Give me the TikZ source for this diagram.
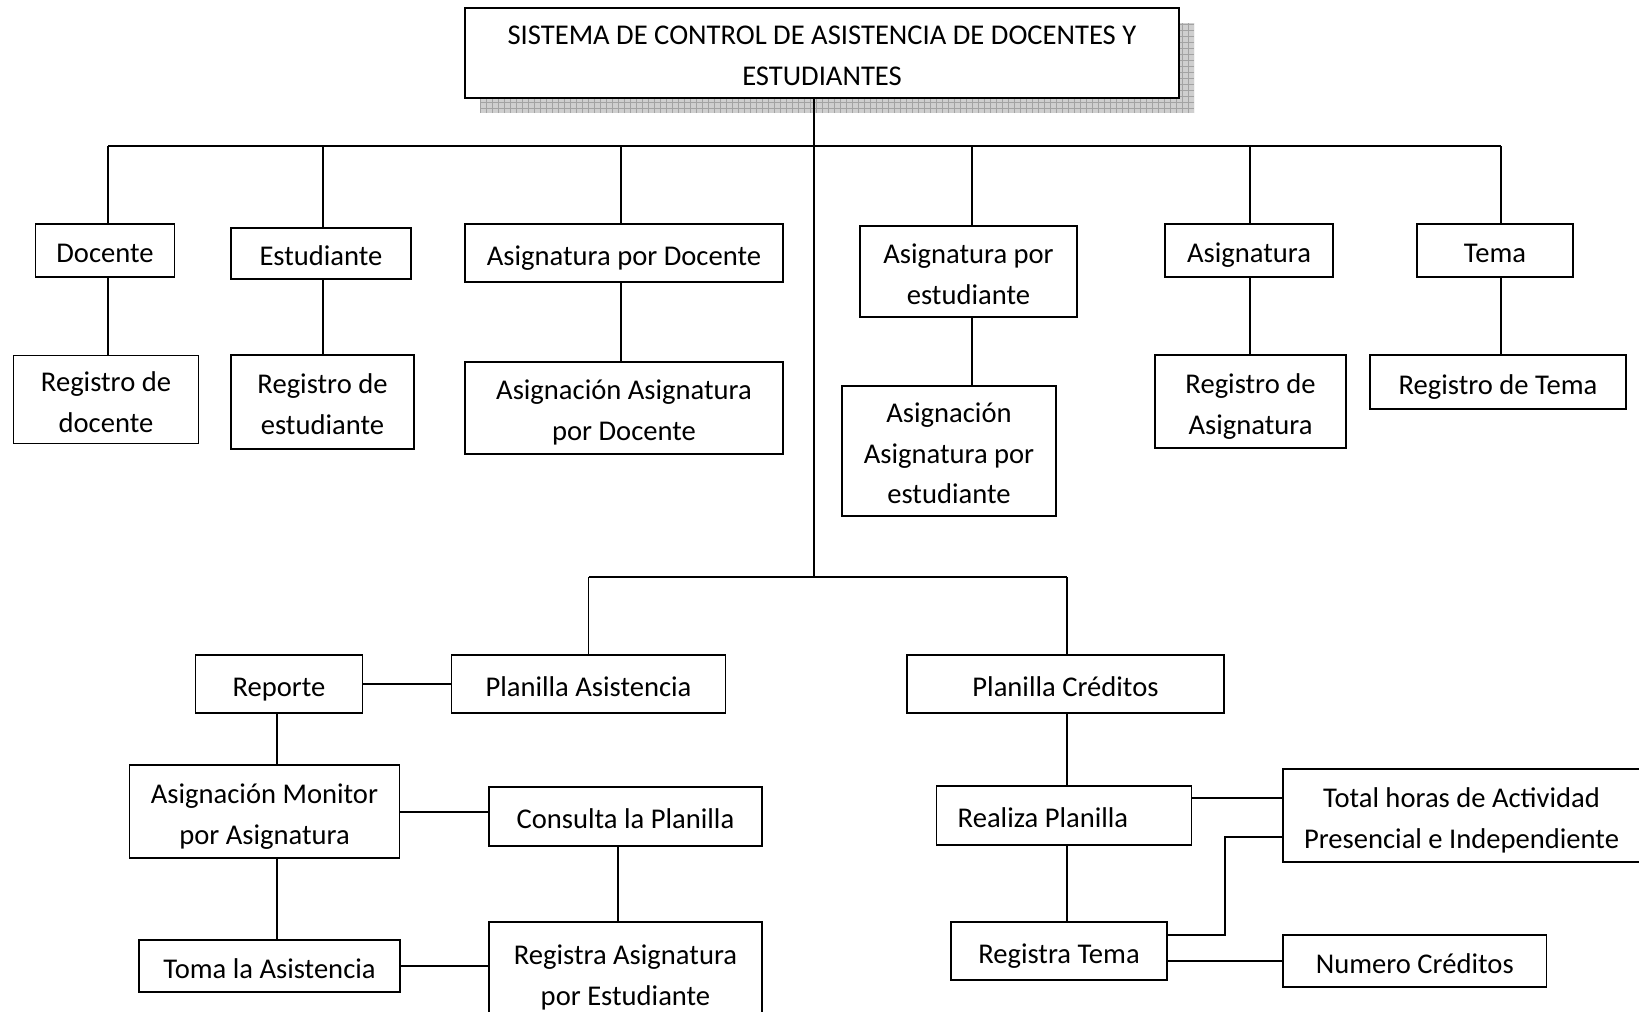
\documentclass[tikz,border=0pt]{standalone}
\usepackage{fontspec}
\setmainfont{Carlito}
% box label: centred lines, sitting slightly low in the box
\newcommand\bt[1]{\raisebox{-4pt}[\height][\depth]{\begin{tabular}{@{}c@{}}#1\end{tabular}}}
\begin{document}
\begin{tikzpicture}[x=1pt,y=-1pt,line width=1.8pt,
  box/.style={draw=black,line width=1.8pt,rectangle,inner sep=0pt,
    fill=white,font=\fontsize{28.6pt}{40.8pt}\selectfont},
  link/.style={draw=black,line width=1.8pt}]
\useasboundingbox (0,0) rectangle (1639,1012);

% title shadow: grey grid
\fill[gray!38] (480,23) rectangle (1194,113);
\begin{scope}
  \clip (480,23) rectangle (1194,113);
  \draw[gray!72,line width=0.6pt] (480,23) grid[step=6pt] (1194,113);
\end{scope}

% title
\node[box,minimum width=714pt,minimum height=90pt] (title) at (822,53)
  {\bt{SISTEMA DE CONTROL DE ASISTENCIA DE DOCENTES Y\\ESTUDIANTES}};

% first level
\node[box,minimum width=139pt,minimum height=53pt] (docente) at (105,250.5) {\bt{Docente}};
\node[box,minimum width=180pt,minimum height=51pt] (estudiante) at (321,253.5) {\bt{Estudiante}};
\node[box,minimum width=318pt,minimum height=58pt] (apd) at (624,253) {\bt{Asignatura por Docente}};
\node[box,minimum width=217pt,minimum height=91pt] (ape) at (968.5,271.5) {\bt{Asignatura por\\estudiante}};
\node[box,minimum width=167.5pt,minimum height=53pt] (asig) at (1249,250.5) {\bt{Asignatura}};
\node[box,minimum width=156pt,minimum height=53pt] (tema) at (1495,250.5) {\bt{Tema}};

% second level
\node[box,minimum width=185pt,minimum height=88pt] (regdoc) at (106,399.5) {\bt{Registro de\\docente}};
\node[box,minimum width=183pt,minimum height=94.5pt] (regest) at (322.5,402) {\bt{Registro de\\estudiante}};
\node[box,minimum width=318pt,minimum height=92pt] (aapd) at (624,408) {\bt{Asignación Asignatura\\por Docente}};
\node[box,minimum width=214.5pt,minimum height=130pt] (aape) at (949,451) {\bt{Asignación\\Asignatura por\\estudiante}};
\node[box,minimum width=191pt,minimum height=93pt] (regasig) at (1250.5,401.5) {\bt{Registro de\\Asignatura}};
\node[box,minimum width=255.5pt,minimum height=54pt] (regtema) at (1498,382) {\bt{Registro de Tema}};

% attendance and credits branch
\node[box,minimum width=274pt,minimum height=57.6pt] (planasis) at (588.5,684) {\bt{Planilla Asistencia}};
\node[box,minimum width=317pt,minimum height=57.6pt] (plancred) at (1065.5,684) {\bt{Planilla Créditos}};
\node[box,minimum width=167pt,minimum height=57.6pt] (reporte) at (279,684) {\bt{Reporte}};
\node[box,minimum width=270pt,minimum height=93pt] (monitor) at (264.5,811.5) {\bt{Asignación Monitor\\por Asignatura}};
\node[box,minimum width=273pt,minimum height=59pt] (consulta) at (625.5,816.5) {\bt{Consulta la Planilla}};
\node[box,minimum width=261pt,minimum height=52pt] (toma) at (269.5,966) {\bt{Toma la Asistencia}};
\node[box,minimum width=273pt,minimum height=101pt] (regasp) at (625.5,972.5) {\bt{Registra Asignatura\\por Estudiante}};
\node[box,minimum width=255pt,minimum height=59pt] (realiza) at (1064,815.5) {\bt{Realiza Planilla\hspace*{42pt}}};
\node[box,minimum width=215.6pt,minimum height=58.5pt] (registema) at (1059,951) {\bt{Registra Tema}};
\node[box,minimum width=357pt,minimum height=93pt] (total) at (1461.5,815.5) {\bt{Total horas de Actividad\\Presencial e Independiente}};
\node[box,minimum width=263.5pt,minimum height=52pt] (numcred) at (1414.75,961) {\bt{Numero Créditos}};

% junction points
\coordinate (hub) at (814,146);
\coordinate (hubB) at (814,577);
\coordinate (b1) at (108,146);
\coordinate (b2) at (323,146);
\coordinate (b3) at (621,146);
\coordinate (b4) at (972,146);
\coordinate (b5) at (1250,146);
\coordinate (b6) at (1501,146);
\coordinate (c1) at (588.5,577);
\coordinate (c2) at (1067,577);
\coordinate (mx) at (277,700);
\coordinate (y1) at (0,812);
\coordinate (rx) at (618,900);
\coordinate (y2) at (0,798);
\coordinate (y3) at (0,935);
\coordinate (k) at (1225,837);

% trunk and top bar
\draw[link] (title.south -| hub) -- (hubB);
\draw[link] (b1) -- (b6);
\draw[link] (b1) -- (b1 |- docente.north);
\draw[link] (b2) -- (b2 |- estudiante.north);
\draw[link] (b3) -- (b3 |- apd.north);
\draw[link] (b4) -- (b4 |- ape.north);
\draw[link] (b5) -- (b5 |- asig.north);
\draw[link] (b6) -- (b6 |- tema.north);
\draw[link] (docente.south -| b1) -- (b1 |- regdoc.north);
\draw[link] (estudiante.south -| b2) -- (b2 |- regest.north);
\draw[link] (apd.south -| b3) -- (b3 |- aapd.north);
\draw[link] (ape.south -| b4) -- (b4 |- aape.north);
\draw[link] (asig.south -| b5) -- (b5 |- regasig.north);
\draw[link] (tema.south -| b6) -- (b6 |- regtema.north);

% lower bar
\draw[link] (c1) -- (c2);
\draw[link] (c1) -- (c1 |- planasis.north);
\draw[link] (c2) -- (c2 |- plancred.north);
\draw[link] (reporte.east) -- (planasis.west);
\draw[link] (reporte.south -| mx) -- (mx |- monitor.north);
\draw[link] (monitor.south -| mx) -- (mx |- toma.north);
\draw[link] (monitor.east |- y1) -- (consulta.west |- y1);
\draw[link] (consulta.south -| rx) -- (rx |- regasp.north);
\draw[link] (toma.east) -- (toma.east -| regasp.west);
\draw[link] (plancred.south -| c2) -- (c2 |- realiza.north);
\draw[link] (realiza.south -| c2) -- (c2 |- registema.north);
\draw[link] (realiza.east |- y2) -- (total.west |- y2);
\draw[link] (registema.east |- y3) -| (k) -- (total.west |- k);
\draw[link] (registema.east |- numcred.west) -- (numcred.west);
\end{tikzpicture}
\end{document}
